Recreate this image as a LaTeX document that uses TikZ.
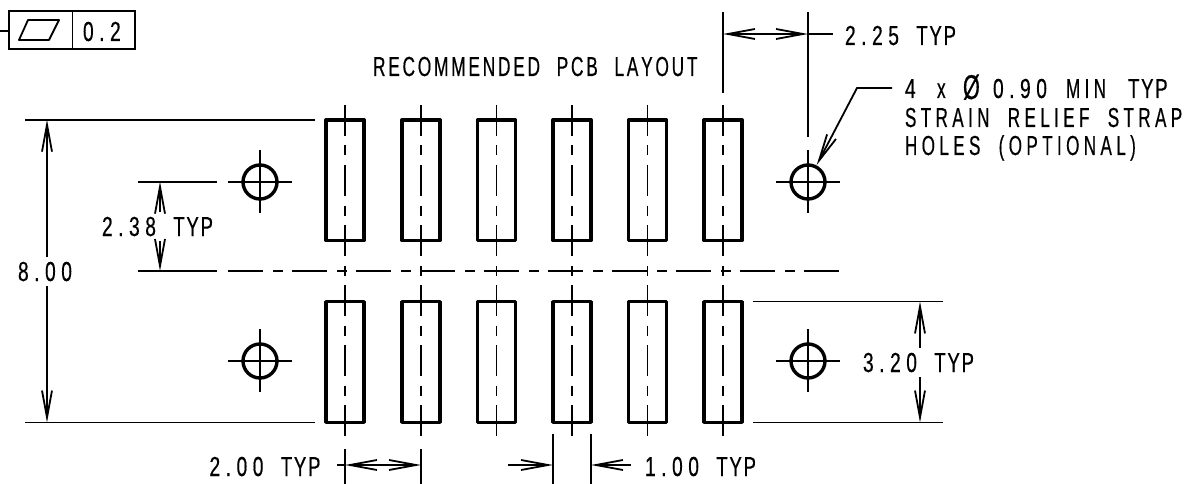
\documentclass[tikz,border=0pt]{standalone}
\usepackage{fontspec}
\usepackage{graphicx}
\usetikzlibrary{arrows.meta}
\newfontfamily\dimfont[FakeStretch=0.63,LetterSpace=10,WordSpace=2.2,Kerning=Off,FakeBold=0.4]{Liberation Sans}
\newfontfamily\widefont[FakeStretch=0.62,LetterSpace=16,WordSpace=2.0,Kerning=Off,FakeBold=0.4]{Liberation Sans}
\newfontfamily\numfont[FakeStretch=0.70,LetterSpace=20,WordSpace=1.6,Kerning=Off,FakeBold=0.4]{Liberation Sans}
\newfontfamily\typfont[FakeStretch=0.68,LetterSpace=6,WordSpace=3.2,Kerning=Off,FakeBold=0.4]{Liberation Sans}
\newcommand\nm[1]{{\numfont #1}}
\newcommand\tp{{\typfont TYP}}
\newcommand\cell[2]{\makebox[#1pt][l]{#2}}
\tikzset{
  x=1pt,y=-1pt,
  thin line/.style={line width=1.8pt,line cap=butt},
  thick pad/.style={draw,line width=3.4pt,rectangle,minimum width=38pt,minimum height=120.5pt,inner sep=0pt,outer sep=0pt,line join=round},
  hole/.style={draw,line width=3.4pt,circle,minimum size=34pt,inner sep=0pt,outer sep=0pt},
  txt/.style={anchor=base west,inner sep=0pt,outer sep=0pt,font=\dimfont\fontsize{27.5}{28}\selectfont},
  fcf/.style={draw,line width=1.8pt,rectangle,inner sep=0pt,outer sep=0pt,minimum height=38pt},
  centerdash/.style={thin line,dash pattern=on 31pt off 9.5pt on 10pt off 9.5pt},
  hcenterdash/.style={thin line,dash pattern=on 35pt off 10pt on 9.5pt off 9.5pt},
  dimarrow/.style={thin line,-{Straight Barb[length=27pt,width=10pt,line width=1.8pt]}},
  dimboth/.style={thin line,{Straight Barb[length=27pt,width=10pt,line width=1.8pt]}-{Straight Barb[length=27pt,width=10pt,line width=1.8pt]}},
}
\begin{document}
\begin{tikzpicture}
\useasboundingbox (0,0) rectangle (1192,484);
% pads and their centre lines
\foreach \n/\cx in {1/345,2/421,3/496.5,4/572,5/647.5,6/723}{
  \node[thick pad] (top\n) at (\cx,180.3) {};
  \node[thick pad] (bot\n) at (\cx,362) {};
  \coordinate (ca\n) at (\cx,105);
  \coordinate (cb\n) at (\cx,437);
  \draw[centerdash] (ca\n) -- (cb\n);
}
% holes
\foreach \n/\hx/\hy in {1/260/182,2/808/182,3/260/361,4/808/361}{
  \node[hole] (h\n) at (\hx,\hy) {};
  \draw[thin line] (h\n) ++(-32,0) -- ++(64,0);
  \draw[thin line] (h\n) ++(0,-32) -- ++(0,63);
}
% horizontal centre line
\coordinate (cl0) at (138,271);
\coordinate (cl1) at (217,271);
\coordinate (cl2) at (228,271);
\coordinate (cl3) at (840,271);
\draw[thin line] (cl0) -- (cl1);
\draw[hcenterdash] (cl2) -- (cl3);
% extension lines
\coordinate (e1a) at (25,119.7);  \coordinate (e1b) at (315,119.7);
\coordinate (e2a) at (25,422.5);  \coordinate (e2b) at (315,422.5);
\coordinate (e3a) at (138,181.7); \coordinate (e3b) at (217,181.7);
\coordinate (e4a) at (753,301.5); \coordinate (e4b) at (943,301.5);
\coordinate (e5a) at (753,422.5); \coordinate (e5b) at (943,422.5);
\coordinate (e6a) at (723,12);    \coordinate (e6b) at (723,93);
\coordinate (e7a) at (808,12);    \coordinate (e7b) at (808,137);
\coordinate (e8a) at (345,449);   \coordinate (e8b) at (345,484);
\coordinate (e9a) at (421,449);   \coordinate (e9b) at (421,484);
\coordinate (e10a) at (553,434);  \coordinate (e10b) at (553,484);
\coordinate (e11a) at (591,434);  \coordinate (e11b) at (591,484);
\foreach \k in {1,...,11}{\draw[thin line] (e\k a) -- (e\k b);}
% dimension 8.00
\coordinate (d1a) at (47,257); \coordinate (d1b) at (47,119.7);
\coordinate (d1c) at (47,286); \coordinate (d1d) at (47,422.5);
\draw[dimarrow] (d1a) -- (d1b);
\draw[dimarrow] (d1c) -- (d1d);
% dimension 2.38
\coordinate (d2a) at (160,212); \coordinate (d2b) at (160,181.7);
\coordinate (d2c) at (160,241); \coordinate (d2d) at (160,271);
\draw[dimarrow] (d2a) -- (d2b);
\draw[dimarrow] (d2c) -- (d2d);
% dimension 3.20
\coordinate (d3a) at (920,348); \coordinate (d3b) at (920,301.5);
\coordinate (d3c) at (920,377); \coordinate (d3d) at (920,422.5);
\draw[dimarrow] (d3a) -- (d3b);
\draw[dimarrow] (d3c) -- (d3d);
% dimension 2.25
\coordinate (d4a) at (723,34); \coordinate (d4b) at (808,34); \coordinate (d4c) at (833,34);
\draw[dimboth] (d4a) -- (d4b);
\draw[thin line] (d4b) -- (d4c);
% dimension 2.00
\coordinate (d5a) at (345,465); \coordinate (d5b) at (421,465); \coordinate (d5c) at (337,465);
\draw[dimboth] (d5a) -- (d5b);
\draw[thin line] (d5c) -- (d5a);
% dimension 1.00
\coordinate (d6a) at (508,465); \coordinate (d6b) at (553,465);
\coordinate (d6c) at (630.5,465); \coordinate (d6d) at (591,465);
\draw[dimarrow] (d6a) -- (d6b);
\draw[dimarrow] (d6c) -- (d6d);
% leader
\coordinate (l1) at (892,88); \coordinate (l2) at (857,88); \coordinate (l3) at (816.7,165);
\draw[dimarrow] (l1) -- (l2) -- (l3);
% feature control frame
\node[fcf,minimum width=63.5pt] (fa) at (40.75,30) {};
\node[fcf,minimum width=62.5pt] (fb) at (103.75,30) {};
\coordinate (lead) at (0,31);
\draw[thin line] (lead) -- (fa.west |- lead);
\draw[thin line,line join=round] (19,40) -- (28,20) -- (59,20) -- (49,40) -- cycle;
% texts
\node[txt] (t0) at (83,41) {\nm{0.2}};
\node[txt] (t1) at (373,76) {RECOMMENDED PCB LAYOUT};
\node[txt] (t2) at (845,45) {\nm{2.25 }\tp};
\node[txt] (t3) at (905,98) {\cell{32}{\nm{4}}\cell{26}{x}\cell{30}{\raisebox{-1pt}{\scalebox{1.25}{Ø}}}\cell{73}{\nm{0.90}}\cell{62}{{\widefont MIN}}\tp};
\node[txt] (t4) at (905,127) {\widefont STRAIN RELIEF STRAP};
\node[txt] (t5) at (905,155) {\widefont HOLES (OPTIONAL)};
\node[txt] (t6) at (102,236) {\nm{2.38 }\tp};
\node[txt] (t7) at (18,281) {\nm{8.00}};
\node[txt] (t8) at (863,372) {\nm{3.20 }\tp};
\node[txt] (t9) at (209.5,476) {\nm{2.00 }\tp};
\node[txt] (t10) at (645,476) {\nm{1.00 }\tp};
\end{tikzpicture}
\end{document}
